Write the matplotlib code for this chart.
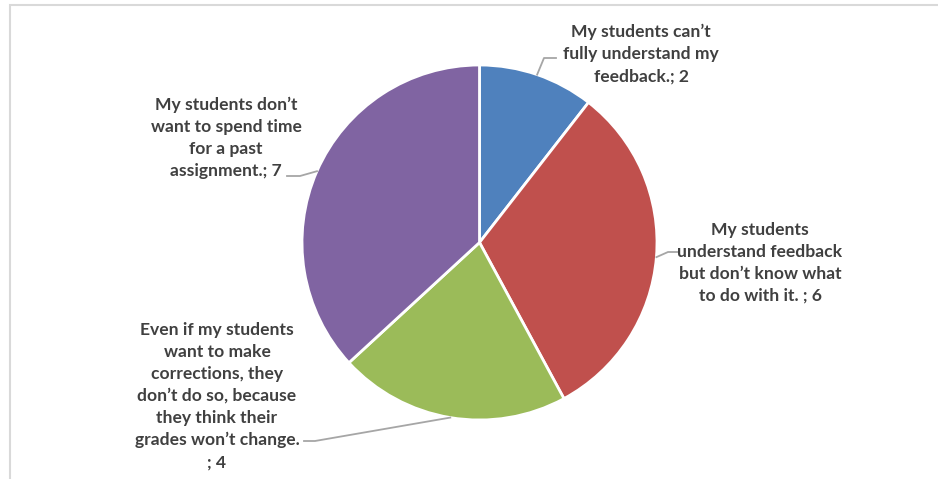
import matplotlib
matplotlib.use("Agg")
import matplotlib.pyplot as plt
import numpy as np
from matplotlib.lines import Line2D
from matplotlib.patches import Rectangle

labels = [
    "My students can\u2019t\nfully understand my\nfeedback.; 2",
    "My students\nunderstand feedback\nbut don\u2019t know what\nto do with it. ; 6",
    "Even if my students\nwant to make\ncorrections, they\ndon\u2019t do so, because\nthey think their\ngrades won\u2019t change.\n; 4",
    "My students don\u2019t\nwant to spend time\nfor a past\nassignment.; 7",
]
values = [2, 6, 4, 7]
colors = ["#4F81BD", "#C0504D", "#9BBB59", "#8064A2"]

W, H = 938, 479
fig = plt.figure(figsize=(W / 100, H / 100), dpi=100)

def fx(x):
    return x / W

def fy(y):
    return 1 - y / H

# chart frame (right and bottom edges run off the picture)
fig.add_artist(Rectangle((fx(10), fy(560)), fx(960), 555 / H,
                         transform=fig.transFigure, fill=False,
                         edgecolor="#d9d9d9", lw=1.5))

cx, cy, r = 479.5, 242.5, 177.5
ax = fig.add_axes([fx(cx - r), fy(cy + r), 2 * r / W, 2 * r / H])
ax.pie(values, colors=colors, startangle=90, counterclock=False,
       wedgeprops=dict(edgecolor="white", linewidth=2), radius=1)
ax.set_xlim(-1, 1)
ax.set_ylim(-1, 1)
ax.set_aspect("auto")
ax.axis("off")

# label text positions (pixels) and leader elbows
text_pos = [(641, 54), (760, 263), (217, 396), (226, 138)]
elbows = [[(544, 58), (556, 58)],
          [(668, 252), (679, 252)],
          [(315, 441), (304, 441)],
          [(300, 176), (287, 176)]]

total = sum(values)
cum = 0
for i, v in enumerate(values):
    mid = 90 - 360 * (cum + v / 2) / total
    cum += v
    ax_x = cx + r * np.cos(np.radians(mid))
    ax_y = cy - r * np.sin(np.radians(mid))
    pts = [(ax_x, ax_y)] + elbows[i]
    fig.add_artist(Line2D([fx(p[0]) for p in pts], [fy(p[1]) for p in pts],
                          transform=fig.transFigure, color="#a6a6a6", lw=1.3))
    tx, ty = text_pos[i]
    fig.text(fx(tx), fy(ty), labels[i], ha="center", va="center",
             fontsize=12.6, fontweight="bold", family="Lato", color="#404040",
             linespacing=1.46)

fig.savefig("out.png", dpi=100)
